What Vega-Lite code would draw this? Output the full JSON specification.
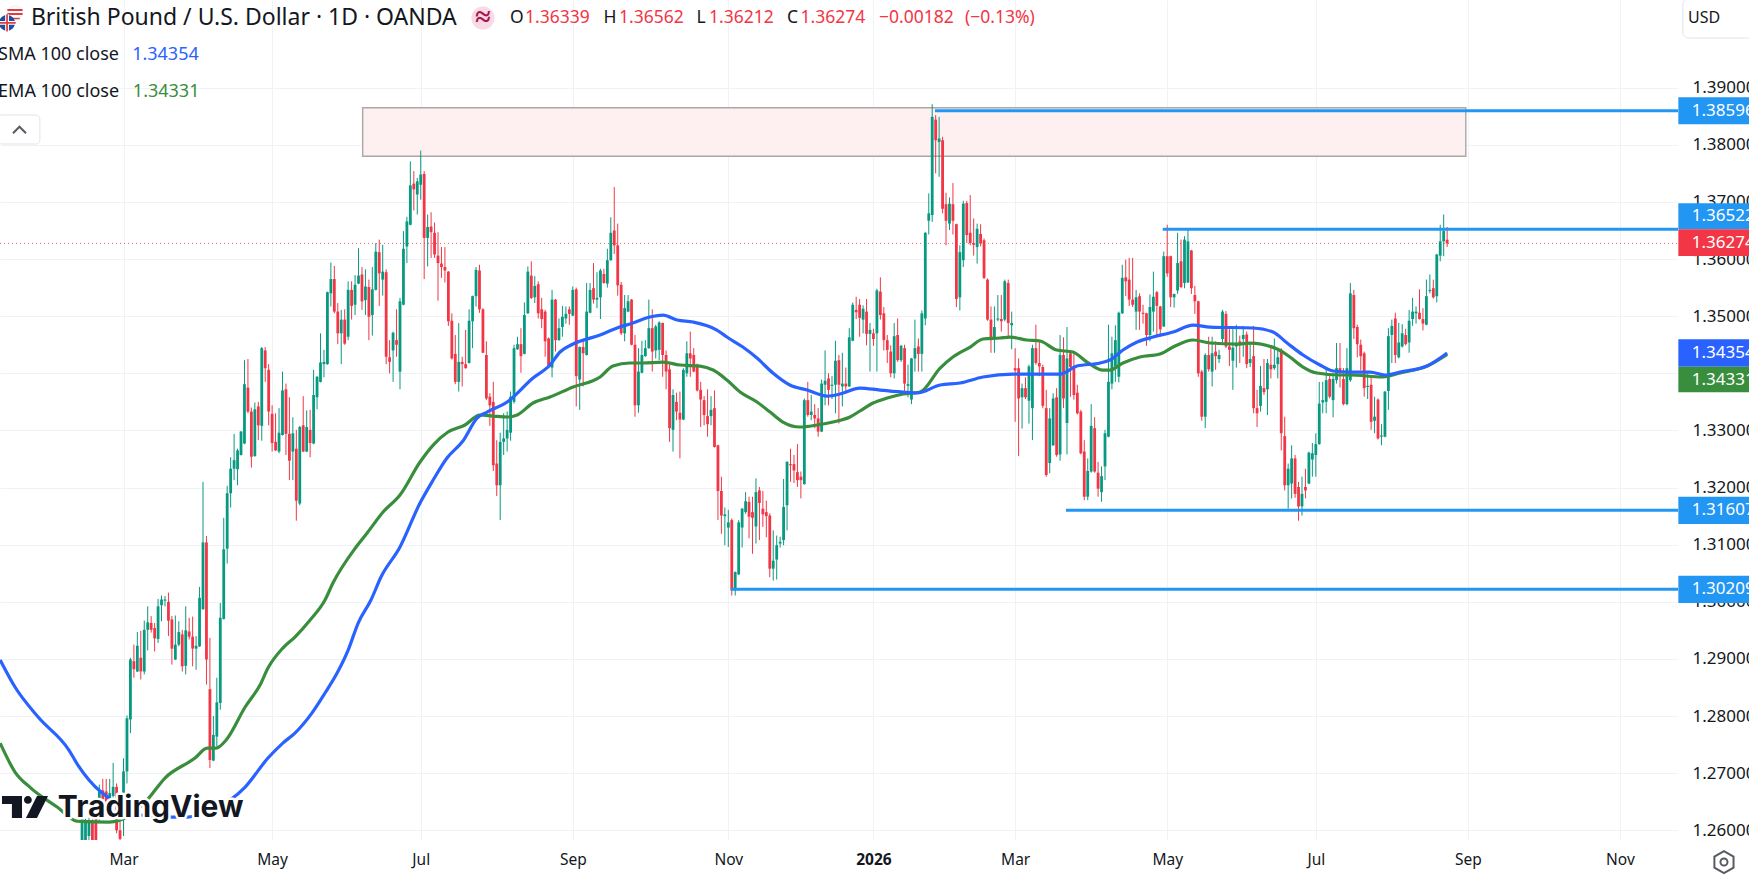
{
  "$schema": "https://vega.github.io/schema/vega-lite/v6.json",
  "description": "GBP/USD daily candles with SMA 100 and EMA 100.",
  "width": 1678,
  "height": 840,
  "padding": {"left": 0, "top": 0, "right": 71, "bottom": 39},
  "autosize": {"type": "none"},
  "background": "#ffffff",
  "config": {"view": {"stroke": null}, "text": {"font": "Noto Sans"}},
  "datasets": {
    "candles": [
      {"b":24,"o":1.2550,"h":1.2628,"l":1.2540,"c":1.2625},
      {"b":25,"o":1.2560,"h":1.2620,"l":1.2550,"c":1.2618},
      {"b":26,"o":1.2590,"h":1.2622,"l":1.2560,"c":1.2618},
      {"b":27,"o":1.2618,"h":1.2622,"l":1.2560,"c":1.2570},
      {"b":28,"o":1.2620,"h":1.2625,"l":1.2560,"c":1.2575},
      {"b":29,"o":1.2625,"h":1.2680,"l":1.2615,"c":1.2668},
      {"b":30,"o":1.2670,"h":1.2690,"l":1.2640,"c":1.2655},
      {"b":31,"o":1.2668,"h":1.2690,"l":1.2630,"c":1.2650},
      {"b":32,"o":1.2650,"h":1.2690,"l":1.2640,"c":1.2665},
      {"b":33,"o":1.2660,"h":1.2718,"l":1.2655,"c":1.2676},
      {"b":34,"o":1.2676,"h":1.2682,"l":1.2595,"c":1.2600},
      {"b":35,"o":1.2600,"h":1.2615,"l":1.2575,"c":1.2585},
      {"b":36,"o":1.2650,"h":1.2726,"l":1.2590,"c":1.2703},
      {"b":37,"o":1.2703,"h":1.2801,"l":1.2682,"c":1.2796},
      {"b":38,"o":1.2794,"h":1.2902,"l":1.2770,"c":1.2899},
      {"b":39,"o":1.2896,"h":1.2925,"l":1.2867,"c":1.2882},
      {"b":40,"o":1.2878,"h":1.2947,"l":1.2877,"c":1.2923},
      {"b":41,"o":1.2902,"h":1.2949,"l":1.2864,"c":1.2878},
      {"b":42,"o":1.2878,"h":1.2967,"l":1.2873,"c":1.2951},
      {"b":43,"o":1.2951,"h":1.2992,"l":1.2915,"c":1.2964},
      {"b":44,"o":1.2963,"h":1.2975,"l":1.2946,"c":1.2951},
      {"b":45,"o":1.2954,"h":1.2963,"l":1.2913,"c":1.2936},
      {"b":46,"o":1.2935,"h":1.3005,"l":1.2928,"c":1.2992},
      {"b":47,"o":1.2994,"h":1.3011,"l":1.2966,"c":1.3004},
      {"b":48,"o":1.3002,"h":1.3010,"l":1.2992,"c":1.3004},
      {"b":49,"o":1.3000,"h":1.3016,"l":1.2940,"c":1.2967},
      {"b":50,"o":1.2969,"h":1.2975,"l":1.2890,"c":1.2918},
      {"b":51,"o":1.2899,"h":1.2976,"l":1.2898,"c":1.2925},
      {"b":52,"o":1.2925,"h":1.2966,"l":1.2922,"c":1.2947},
      {"b":53,"o":1.2943,"h":1.2951,"l":1.2878,"c":1.2887},
      {"b":54,"o":1.2888,"h":1.2992,"l":1.2873,"c":1.2950},
      {"b":55,"o":1.2948,"h":1.2972,"l":1.2934,"c":1.2939},
      {"b":56,"o":1.2939,"h":1.2974,"l":1.2887,"c":1.2918},
      {"b":57,"o":1.2918,"h":1.2940,"l":1.2881,"c":1.2923},
      {"b":58,"o":1.2922,"h":1.3026,"l":1.2921,"c":1.3007},
      {"b":59,"o":1.2987,"h":1.3210,"l":1.2986,"c":1.3104},
      {"b":60,"o":1.3104,"h":1.3115,"l":1.2855,"c":1.2899},
      {"b":61,"o":1.2847,"h":1.2937,"l":1.2709,"c":1.2723},
      {"b":62,"o":1.2722,"h":1.2800,"l":1.2721,"c":1.2767},
      {"b":63,"o":1.2764,"h":1.2867,"l":1.2747,"c":1.2824},
      {"b":64,"o":1.2823,"h":1.2998,"l":1.2811,"c":1.2972},
      {"b":65,"o":1.2970,"h":1.3147,"l":1.2969,"c":1.3092},
      {"b":66,"o":1.3093,"h":1.3203,"l":1.3067,"c":1.3190},
      {"b":67,"o":1.3190,"h":1.3253,"l":1.3165,"c":1.3233},
      {"b":68,"o":1.3233,"h":1.3294,"l":1.3213,"c":1.3248},
      {"b":69,"o":1.3232,"h":1.3268,"l":1.3204,"c":1.3265},
      {"b":70,"o":1.3257,"h":1.3299,"l":1.3256,"c":1.3298},
      {"b":71,"o":1.3277,"h":1.3423,"l":1.3276,"c":1.3381},
      {"b":72,"o":1.3375,"h":1.3425,"l":1.3330,"c":1.3333},
      {"b":73,"o":1.3333,"h":1.3340,"l":1.3235,"c":1.3254},
      {"b":74,"o":1.3255,"h":1.3349,"l":1.3254,"c":1.3337},
      {"b":75,"o":1.3342,"h":1.3350,"l":1.3283,"c":1.3309},
      {"b":76,"o":1.3308,"h":1.3446,"l":1.3282,"c":1.3444},
      {"b":77,"o":1.3440,"h":1.3446,"l":1.3385,"c":1.3409},
      {"b":78,"o":1.3406,"h":1.3416,"l":1.3309,"c":1.3333},
      {"b":79,"o":1.3329,"h":1.3344,"l":1.3263,"c":1.3278},
      {"b":80,"o":1.3280,"h":1.3330,"l":1.3264,"c":1.3265},
      {"b":81,"o":1.3263,"h":1.3339,"l":1.3260,"c":1.3296},
      {"b":82,"o":1.3292,"h":1.3403,"l":1.3291,"c":1.3370},
      {"b":83,"o":1.3372,"h":1.3382,"l":1.3257,"c":1.3294},
      {"b":84,"o":1.3294,"h":1.3358,"l":1.3213,"c":1.3247},
      {"b":85,"o":1.3263,"h":1.3323,"l":1.3213,"c":1.3295},
      {"b":86,"o":1.3268,"h":1.3301,"l":1.3142,"c":1.3177},
      {"b":87,"o":1.3172,"h":1.3308,"l":1.3169,"c":1.3306},
      {"b":88,"o":1.3309,"h":1.3360,"l":1.3262,"c":1.3263},
      {"b":89,"o":1.3263,"h":1.3335,"l":1.3262,"c":1.3306},
      {"b":90,"o":1.3301,"h":1.3336,"l":1.3253,"c":1.3278},
      {"b":91,"o":1.3277,"h":1.3406,"l":1.3276,"c":1.3362},
      {"b":92,"o":1.3358,"h":1.3395,"l":1.3337,"c":1.3394},
      {"b":93,"o":1.3385,"h":1.3470,"l":1.3384,"c":1.3419},
      {"b":94,"o":1.3416,"h":1.3441,"l":1.3393,"c":1.3420},
      {"b":95,"o":1.3416,"h":1.3543,"l":1.3415,"c":1.3542},
      {"b":96,"o":1.3540,"h":1.3594,"l":1.3517,"c":1.3565},
      {"b":97,"o":1.3565,"h":1.3588,"l":1.3505,"c":1.3508},
      {"b":98,"o":1.3508,"h":1.3523,"l":1.3451,"c":1.3470},
      {"b":99,"o":1.3470,"h":1.3511,"l":1.3416,"c":1.3494},
      {"b":100,"o":1.3494,"h":1.3512,"l":1.3450,"c":1.3452},
      {"b":101,"o":1.3464,"h":1.3561,"l":1.3458,"c":1.3546},
      {"b":102,"o":1.3546,"h":1.3561,"l":1.3494,"c":1.3518},
      {"b":103,"o":1.3520,"h":1.3572,"l":1.3502,"c":1.3555},
      {"b":104,"o":1.3557,"h":1.3619,"l":1.3556,"c":1.3571},
      {"b":105,"o":1.3573,"h":1.3586,"l":1.3511,"c":1.3526},
      {"b":106,"o":1.3528,"h":1.3582,"l":1.3502,"c":1.3552},
      {"b":107,"o":1.3551,"h":1.3564,"l":1.3458,"c":1.3499},
      {"b":108,"o":1.3502,"h":1.3586,"l":1.3466,"c":1.3547},
      {"b":109,"o":1.3546,"h":1.3628,"l":1.3545,"c":1.3613},
      {"b":110,"o":1.3612,"h":1.3634,"l":1.3518,"c":1.3575},
      {"b":111,"o":1.3564,"h":1.3625,"l":1.3536,"c":1.3578},
      {"b":112,"o":1.3577,"h":1.3582,"l":1.3416,"c":1.3429},
      {"b":113,"o":1.3428,"h":1.3458,"l":1.3400,"c":1.3420},
      {"b":114,"o":1.3440,"h":1.3473,"l":1.3385,"c":1.3471},
      {"b":115,"o":1.3458,"h":1.3512,"l":1.3429,"c":1.3450},
      {"b":116,"o":1.3403,"h":1.3532,"l":1.3372,"c":1.3526},
      {"b":117,"o":1.3520,"h":1.3649,"l":1.3519,"c":1.3618},
      {"b":118,"o":1.3622,"h":1.3674,"l":1.3593,"c":1.3666},
      {"b":119,"o":1.3660,"h":1.3771,"l":1.3659,"c":1.3729},
      {"b":120,"o":1.3732,"h":1.3754,"l":1.3685,"c":1.3722},
      {"b":121,"o":1.3713,"h":1.3742,"l":1.3678,"c":1.3736},
      {"b":122,"o":1.3730,"h":1.3790,"l":1.3704,"c":1.3748},
      {"b":123,"o":1.3749,"h":1.3754,"l":1.3565,"c":1.3637},
      {"b":124,"o":1.3637,"h":1.3678,"l":1.3587,"c":1.3656},
      {"b":125,"o":1.3657,"h":1.3682,"l":1.3602,"c":1.3647},
      {"b":126,"o":1.3646,"h":1.3664,"l":1.3602,"c":1.3608},
      {"b":127,"o":1.3606,"h":1.3647,"l":1.3527,"c":1.3593},
      {"b":128,"o":1.3592,"h":1.3621,"l":1.3567,"c":1.3586},
      {"b":129,"o":1.3586,"h":1.3621,"l":1.3559,"c":1.3580},
      {"b":130,"o":1.3578,"h":1.3579,"l":1.3483,"c":1.3491},
      {"b":131,"o":1.3492,"h":1.3505,"l":1.3424,"c":1.3426},
      {"b":132,"o":1.3434,"h":1.3467,"l":1.3381,"c":1.3385},
      {"b":133,"o":1.3385,"h":1.3488,"l":1.3368,"c":1.3420},
      {"b":134,"o":1.3420,"h":1.3429,"l":1.3377,"c":1.3416},
      {"b":135,"o":1.3416,"h":1.3476,"l":1.3408,"c":1.3409},
      {"b":136,"o":1.3418,"h":1.3512,"l":1.3417,"c":1.3492},
      {"b":137,"o":1.3491,"h":1.3536,"l":1.3444,"c":1.3535},
      {"b":138,"o":1.3535,"h":1.3586,"l":1.3517,"c":1.3581},
      {"b":139,"o":1.3580,"h":1.3590,"l":1.3506,"c":1.3512},
      {"b":140,"o":1.3512,"h":1.3514,"l":1.3435,"c":1.3436},
      {"b":141,"o":1.3432,"h":1.3456,"l":1.3353,"c":1.3356},
      {"b":142,"o":1.3359,"h":1.3365,"l":1.3308,"c":1.3344},
      {"b":143,"o":1.3350,"h":1.3385,"l":1.3229,"c":1.3239},
      {"b":144,"o":1.3242,"h":1.3283,"l":1.3185,"c":1.3204},
      {"b":145,"o":1.3204,"h":1.3296,"l":1.3143,"c":1.3280},
      {"b":146,"o":1.3280,"h":1.3330,"l":1.3257,"c":1.3286},
      {"b":147,"o":1.3286,"h":1.3333,"l":1.3263,"c":1.3301},
      {"b":148,"o":1.3296,"h":1.3368,"l":1.3282,"c":1.3359},
      {"b":149,"o":1.3350,"h":1.3450,"l":1.3347,"c":1.3444},
      {"b":150,"o":1.3442,"h":1.3464,"l":1.3441,"c":1.3451},
      {"b":151,"o":1.3451,"h":1.3479,"l":1.3401,"c":1.3430},
      {"b":152,"o":1.3434,"h":1.3524,"l":1.3433,"c":1.3502},
      {"b":153,"o":1.3505,"h":1.3587,"l":1.3504,"c":1.3578},
      {"b":154,"o":1.3571,"h":1.3596,"l":1.3530,"c":1.3532},
      {"b":155,"o":1.3533,"h":1.3570,"l":1.3523,"c":1.3553},
      {"b":156,"o":1.3556,"h":1.3561,"l":1.3496,"c":1.3505},
      {"b":157,"o":1.3512,"h":1.3532,"l":1.3479,"c":1.3495},
      {"b":158,"o":1.3508,"h":1.3511,"l":1.3429,"c":1.3456},
      {"b":159,"o":1.3461,"h":1.3463,"l":1.3409,"c":1.3412},
      {"b":160,"o":1.3410,"h":1.3546,"l":1.3393,"c":1.3529},
      {"b":161,"o":1.3529,"h":1.3530,"l":1.3438,"c":1.3458},
      {"b":162,"o":1.3458,"h":1.3496,"l":1.3457,"c":1.3479},
      {"b":163,"o":1.3481,"h":1.3518,"l":1.3464,"c":1.3499},
      {"b":164,"o":1.3496,"h":1.3517,"l":1.3487,"c":1.3504},
      {"b":165,"o":1.3512,"h":1.3517,"l":1.3485,"c":1.3504},
      {"b":166,"o":1.3501,"h":1.3552,"l":1.3500,"c":1.3546},
      {"b":167,"o":1.3547,"h":1.3550,"l":1.3342,"c":1.3395},
      {"b":168,"o":1.3389,"h":1.3447,"l":1.3336,"c":1.3446},
      {"b":169,"o":1.3446,"h":1.3458,"l":1.3377,"c":1.3435},
      {"b":170,"o":1.3432,"h":1.3558,"l":1.3431,"c":1.3508},
      {"b":171,"o":1.3506,"h":1.3558,"l":1.3505,"c":1.3546},
      {"b":172,"o":1.3549,"h":1.3593,"l":1.3522,"c":1.3529},
      {"b":173,"o":1.3529,"h":1.3577,"l":1.3514,"c":1.3532},
      {"b":174,"o":1.3533,"h":1.3583,"l":1.3495,"c":1.3580},
      {"b":175,"o":1.3574,"h":1.3583,"l":1.3557,"c":1.3558},
      {"b":176,"o":1.3557,"h":1.3618,"l":1.3550,"c":1.3598},
      {"b":177,"o":1.3598,"h":1.3673,"l":1.3597,"c":1.3646},
      {"b":178,"o":1.3650,"h":1.3726,"l":1.3609,"c":1.3624},
      {"b":179,"o":1.3624,"h":1.3662,"l":1.3536,"c":1.3554},
      {"b":180,"o":1.3555,"h":1.3560,"l":1.3467,"c":1.3470},
      {"b":181,"o":1.3470,"h":1.3537,"l":1.3456,"c":1.3514},
      {"b":182,"o":1.3508,"h":1.3537,"l":1.3507,"c":1.3526},
      {"b":183,"o":1.3529,"h":1.3530,"l":1.3449,"c":1.3450},
      {"b":184,"o":1.3450,"h":1.3467,"l":1.3324,"c":1.3344},
      {"b":185,"o":1.3344,"h":1.3444,"l":1.3331,"c":1.3403},
      {"b":186,"o":1.3401,"h":1.3457,"l":1.3400,"c":1.3432},
      {"b":187,"o":1.3430,"h":1.3458,"l":1.3429,"c":1.3444},
      {"b":188,"o":1.3444,"h":1.3529,"l":1.3443,"c":1.3479},
      {"b":189,"o":1.3479,"h":1.3512,"l":1.3403,"c":1.3438},
      {"b":190,"o":1.3440,"h":1.3485,"l":1.3426,"c":1.3482},
      {"b":191,"o":1.3441,"h":1.3491,"l":1.3423,"c":1.3489},
      {"b":192,"o":1.3488,"h":1.3489,"l":1.3394,"c":1.3432},
      {"b":193,"o":1.3432,"h":1.3440,"l":1.3372,"c":1.3403},
      {"b":194,"o":1.3407,"h":1.3420,"l":1.3280,"c":1.3304},
      {"b":195,"o":1.3301,"h":1.3372,"l":1.3263,"c":1.3362},
      {"b":196,"o":1.3350,"h":1.3366,"l":1.3318,"c":1.3333},
      {"b":197,"o":1.3331,"h":1.3368,"l":1.3251,"c":1.3319},
      {"b":198,"o":1.3319,"h":1.3409,"l":1.3318,"c":1.3406},
      {"b":199,"o":1.3400,"h":1.3456,"l":1.3394,"c":1.3435},
      {"b":200,"o":1.3435,"h":1.3473,"l":1.3394,"c":1.3426},
      {"b":201,"o":1.3432,"h":1.3444,"l":1.3402,"c":1.3403},
      {"b":202,"o":1.3415,"h":1.3417,"l":1.3368,"c":1.3370},
      {"b":203,"o":1.3371,"h":1.3385,"l":1.3306,"c":1.3354},
      {"b":204,"o":1.3353,"h":1.3360,"l":1.3309,"c":1.3327},
      {"b":205,"o":1.3325,"h":1.3372,"l":1.3289,"c":1.3311},
      {"b":206,"o":1.3325,"h":1.3360,"l":1.3309,"c":1.3336},
      {"b":207,"o":1.3339,"h":1.3370,"l":1.3270,"c":1.3271},
      {"b":208,"o":1.3274,"h":1.3275,"l":1.3143,"c":1.3194},
      {"b":209,"o":1.3194,"h":1.3219,"l":1.3119,"c":1.3151},
      {"b":210,"o":1.3150,"h":1.3165,"l":1.3099,"c":1.3153},
      {"b":211,"o":1.3130,"h":1.3161,"l":1.3096,"c":1.3139},
      {"b":212,"o":1.3143,"h":1.3146,"l":1.3011,"c":1.3020},
      {"b":213,"o":1.3020,"h":1.3053,"l":1.3011,"c":1.3052},
      {"b":214,"o":1.3048,"h":1.3143,"l":1.3047,"c":1.3139},
      {"b":215,"o":1.3130,"h":1.3164,"l":1.3095,"c":1.3163},
      {"b":216,"o":1.3157,"h":1.3192,"l":1.3154,"c":1.3176},
      {"b":217,"o":1.3175,"h":1.3184,"l":1.3111,"c":1.3149},
      {"b":218,"o":1.3157,"h":1.3184,"l":1.3084,"c":1.3147},
      {"b":219,"o":1.3132,"h":1.3216,"l":1.3102,"c":1.3192},
      {"b":220,"o":1.3195,"h":1.3201,"l":1.3108,"c":1.3173},
      {"b":221,"o":1.3163,"h":1.3194,"l":1.3131,"c":1.3153},
      {"b":222,"o":1.3157,"h":1.3177,"l":1.3113,"c":1.3150},
      {"b":223,"o":1.3151,"h":1.3155,"l":1.3043,"c":1.3058},
      {"b":224,"o":1.3058,"h":1.3125,"l":1.3037,"c":1.3072},
      {"b":225,"o":1.3074,"h":1.3116,"l":1.3039,"c":1.3099},
      {"b":226,"o":1.3102,"h":1.3114,"l":1.3095,"c":1.3105},
      {"b":227,"o":1.3108,"h":1.3215,"l":1.3099,"c":1.3166},
      {"b":228,"o":1.3169,"h":1.3246,"l":1.3125,"c":1.3245},
      {"b":229,"o":1.3241,"h":1.3268,"l":1.3210,"c":1.3239},
      {"b":230,"o":1.3241,"h":1.3257,"l":1.3208,"c":1.3230},
      {"b":231,"o":1.3227,"h":1.3276,"l":1.3201,"c":1.3213},
      {"b":232,"o":1.3219,"h":1.3228,"l":1.3181,"c":1.3213},
      {"b":233,"o":1.3206,"h":1.3356,"l":1.3205,"c":1.3353},
      {"b":234,"o":1.3353,"h":1.3385,"l":1.3324,"c":1.3327},
      {"b":235,"o":1.3327,"h":1.3362,"l":1.3318,"c":1.3333},
      {"b":236,"o":1.3327,"h":1.3346,"l":1.3304,"c":1.3321},
      {"b":237,"o":1.3321,"h":1.3339,"l":1.3289,"c":1.3298},
      {"b":238,"o":1.3298,"h":1.3389,"l":1.3297,"c":1.3382},
      {"b":239,"o":1.3380,"h":1.3440,"l":1.3344,"c":1.3387},
      {"b":240,"o":1.3391,"h":1.3400,"l":1.3344,"c":1.3371},
      {"b":241,"o":1.3378,"h":1.3395,"l":1.3355,"c":1.3380},
      {"b":242,"o":1.3380,"h":1.3457,"l":1.3330,"c":1.3422},
      {"b":243,"o":1.3423,"h":1.3432,"l":1.3312,"c":1.3380},
      {"b":244,"o":1.3377,"h":1.3436,"l":1.3342,"c":1.3382},
      {"b":245,"o":1.3382,"h":1.3410,"l":1.3365,"c":1.3377},
      {"b":246,"o":1.3377,"h":1.3479,"l":1.3376,"c":1.3463},
      {"b":247,"o":1.3457,"h":1.3524,"l":1.3456,"c":1.3520},
      {"b":248,"o":1.3511,"h":1.3534,"l":1.3495,"c":1.3507},
      {"b":249,"o":1.3520,"h":1.3530,"l":1.3464,"c":1.3497},
      {"b":250,"o":1.3494,"h":1.3519,"l":1.3470,"c":1.3513},
      {"b":251,"o":1.3508,"h":1.3530,"l":1.3449,"c":1.3469},
      {"b":252,"o":1.3469,"h":1.3488,"l":1.3403,"c":1.3476},
      {"b":253,"o":1.3470,"h":1.3478,"l":1.3448,"c":1.3460},
      {"b":254,"o":1.3470,"h":1.3548,"l":1.3403,"c":1.3545},
      {"b":255,"o":1.3543,"h":1.3568,"l":1.3494,"c":1.3502},
      {"b":256,"o":1.3505,"h":1.3516,"l":1.3440,"c":1.3458},
      {"b":257,"o":1.3458,"h":1.3467,"l":1.3418,"c":1.3441},
      {"b":258,"o":1.3438,"h":1.3449,"l":1.3393,"c":1.3400},
      {"b":259,"o":1.3400,"h":1.3488,"l":1.3391,"c":1.3465},
      {"b":260,"o":1.3467,"h":1.3496,"l":1.3420,"c":1.3423},
      {"b":261,"o":1.3423,"h":1.3450,"l":1.3420,"c":1.3448},
      {"b":262,"o":1.3444,"h":1.3450,"l":1.3365,"c":1.3382},
      {"b":263,"o":1.3378,"h":1.3415,"l":1.3358,"c":1.3381},
      {"b":264,"o":1.3354,"h":1.3427,"l":1.3346,"c":1.3426},
      {"b":265,"o":1.3426,"h":1.3494,"l":1.3403,"c":1.3444},
      {"b":266,"o":1.3447,"h":1.3461,"l":1.3403,"c":1.3434},
      {"b":267,"o":1.3434,"h":1.3510,"l":1.3403,"c":1.3505},
      {"b":268,"o":1.3496,"h":1.3647,"l":1.3484,"c":1.3646},
      {"b":269,"o":1.3667,"h":1.3715,"l":1.3643,"c":1.3680},
      {"b":270,"o":1.3677,"h":1.3871,"l":1.3665,"c":1.3849},
      {"b":271,"o":1.3844,"h":1.3852,"l":1.3750,"c":1.3808},
      {"b":272,"o":1.3805,"h":1.3849,"l":1.3744,"c":1.3811},
      {"b":273,"o":1.3808,"h":1.3814,"l":1.3680,"c":1.3688},
      {"b":274,"o":1.3696,"h":1.3716,"l":1.3624,"c":1.3667},
      {"b":275,"o":1.3662,"h":1.3708,"l":1.3651,"c":1.3697},
      {"b":276,"o":1.3696,"h":1.3733,"l":1.3643,"c":1.3667},
      {"b":277,"o":1.3661,"h":1.3662,"l":1.3516,"c":1.3530},
      {"b":278,"o":1.3533,"h":1.3624,"l":1.3510,"c":1.3612},
      {"b":279,"o":1.3598,"h":1.3702,"l":1.3586,"c":1.3697},
      {"b":280,"o":1.3698,"h":1.3702,"l":1.3628,"c":1.3642},
      {"b":281,"o":1.3646,"h":1.3712,"l":1.3624,"c":1.3628},
      {"b":282,"o":1.3628,"h":1.3671,"l":1.3606,"c":1.3625},
      {"b":283,"o":1.3621,"h":1.3662,"l":1.3592,"c":1.3653},
      {"b":284,"o":1.3644,"h":1.3661,"l":1.3622,"c":1.3627},
      {"b":285,"o":1.3633,"h":1.3636,"l":1.3565,"c":1.3567},
      {"b":286,"o":1.3564,"h":1.3566,"l":1.3492,"c":1.3494},
      {"b":287,"o":1.3494,"h":1.3517,"l":1.3436,"c":1.3458},
      {"b":288,"o":1.3461,"h":1.3517,"l":1.3436,"c":1.3481},
      {"b":289,"o":1.3494,"h":1.3537,"l":1.3491,"c":1.3496},
      {"b":290,"o":1.3495,"h":1.3537,"l":1.3473,"c":1.3491},
      {"b":291,"o":1.3494,"h":1.3564,"l":1.3491,"c":1.3561},
      {"b":292,"o":1.3558,"h":1.3564,"l":1.3464,"c":1.3488},
      {"b":293,"o":1.3484,"h":1.3508,"l":1.3442,"c":1.3488},
      {"b":294,"o":1.3409,"h":1.3444,"l":1.3315,"c":1.3405},
      {"b":295,"o":1.3409,"h":1.3426,"l":1.3255,"c":1.3356},
      {"b":296,"o":1.3358,"h":1.3382,"l":1.3303,"c":1.3374},
      {"b":297,"o":1.3374,"h":1.3393,"l":1.3355,"c":1.3358},
      {"b":298,"o":1.3352,"h":1.3415,"l":1.3312,"c":1.3412},
      {"b":299,"o":1.3339,"h":1.3450,"l":1.3283,"c":1.3444},
      {"b":300,"o":1.3444,"h":1.3485,"l":1.3415,"c":1.3418},
      {"b":301,"o":1.3418,"h":1.3457,"l":1.3395,"c":1.3412},
      {"b":302,"o":1.3411,"h":1.3415,"l":1.3339,"c":1.3343},
      {"b":303,"o":1.3339,"h":1.3371,"l":1.3219,"c":1.3222},
      {"b":304,"o":1.3243,"h":1.3339,"l":1.3225,"c":1.3321},
      {"b":305,"o":1.3274,"h":1.3365,"l":1.3273,"c":1.3356},
      {"b":306,"o":1.3358,"h":1.3374,"l":1.3254,"c":1.3257},
      {"b":307,"o":1.3258,"h":1.3467,"l":1.3247,"c":1.3432},
      {"b":308,"o":1.3432,"h":1.3463,"l":1.3339,"c":1.3356},
      {"b":309,"o":1.3313,"h":1.3481,"l":1.3258,"c":1.3426},
      {"b":310,"o":1.3435,"h":1.3441,"l":1.3359,"c":1.3411},
      {"b":311,"o":1.3409,"h":1.3438,"l":1.3354,"c":1.3362},
      {"b":312,"o":1.3366,"h":1.3380,"l":1.3328,"c":1.3330},
      {"b":313,"o":1.3333,"h":1.3336,"l":1.3258,"c":1.3260},
      {"b":314,"o":1.3263,"h":1.3283,"l":1.3178,"c":1.3184},
      {"b":315,"o":1.3184,"h":1.3251,"l":1.3178,"c":1.3229},
      {"b":316,"o":1.3228,"h":1.3346,"l":1.3226,"c":1.3308},
      {"b":317,"o":1.3304,"h":1.3323,"l":1.3226,"c":1.3228},
      {"b":318,"o":1.3226,"h":1.3245,"l":1.3184,"c":1.3198},
      {"b":319,"o":1.3192,"h":1.3237,"l":1.3175,"c":1.3220},
      {"b":320,"o":1.3237,"h":1.3301,"l":1.3213,"c":1.3295},
      {"b":321,"o":1.3289,"h":1.3485,"l":1.3288,"c":1.3385},
      {"b":322,"o":1.3382,"h":1.3464,"l":1.3372,"c":1.3435},
      {"b":323,"o":1.3412,"h":1.3484,"l":1.3385,"c":1.3458},
      {"b":324,"o":1.3394,"h":1.3508,"l":1.3384,"c":1.3506},
      {"b":325,"o":1.3505,"h":1.3590,"l":1.3504,"c":1.3567},
      {"b":326,"o":1.3568,"h":1.3599,"l":1.3535,"c":1.3561},
      {"b":327,"o":1.3564,"h":1.3602,"l":1.3518,"c":1.3529},
      {"b":328,"o":1.3529,"h":1.3602,"l":1.3516,"c":1.3520},
      {"b":329,"o":1.3508,"h":1.3546,"l":1.3476,"c":1.3533},
      {"b":330,"o":1.3535,"h":1.3540,"l":1.3476,"c":1.3508},
      {"b":331,"o":1.3506,"h":1.3520,"l":1.3487,"c":1.3504},
      {"b":332,"o":1.3505,"h":1.3506,"l":1.3448,"c":1.3467},
      {"b":333,"o":1.3467,"h":1.3538,"l":1.3456,"c":1.3516},
      {"b":334,"o":1.3508,"h":1.3578,"l":1.3473,"c":1.3534},
      {"b":335,"o":1.3542,"h":1.3544,"l":1.3464,"c":1.3518},
      {"b":336,"o":1.3517,"h":1.3518,"l":1.3464,"c":1.3477},
      {"b":337,"o":1.3482,"h":1.3613,"l":1.3481,"c":1.3605},
      {"b":338,"o":1.3605,"h":1.3660,"l":1.3569,"c":1.3575},
      {"b":339,"o":1.3605,"h":1.3606,"l":1.3516,"c":1.3533},
      {"b":340,"o":1.3533,"h":1.3539,"l":1.3515,"c":1.3539},
      {"b":341,"o":1.3545,"h":1.3646,"l":1.3539,"c":1.3593},
      {"b":342,"o":1.3596,"h":1.3634,"l":1.3549,"c":1.3551},
      {"b":343,"o":1.3558,"h":1.3640,"l":1.3549,"c":1.3634},
      {"b":344,"o":1.3559,"h":1.3654,"l":1.3558,"c":1.3631},
      {"b":345,"o":1.3615,"h":1.3616,"l":1.3539,"c":1.3549},
      {"b":346,"o":1.3537,"h":1.3553,"l":1.3504,"c":1.3526},
      {"b":347,"o":1.3526,"h":1.3527,"l":1.3394,"c":1.3400},
      {"b":348,"o":1.3403,"h":1.3406,"l":1.3317,"c":1.3324},
      {"b":349,"o":1.3324,"h":1.3435,"l":1.3304,"c":1.3432},
      {"b":350,"o":1.3432,"h":1.3464,"l":1.3403,"c":1.3407},
      {"b":351,"o":1.3403,"h":1.3464,"l":1.3377,"c":1.3435},
      {"b":352,"o":1.3438,"h":1.3456,"l":1.3406,"c":1.3430},
      {"b":353,"o":1.3425,"h":1.3441,"l":1.3418,"c":1.3432},
      {"b":354,"o":1.3460,"h":1.3511,"l":1.3455,"c":1.3508},
      {"b":355,"o":1.3504,"h":1.3509,"l":1.3444,"c":1.3447},
      {"b":356,"o":1.3447,"h":1.3483,"l":1.3413,"c":1.3441},
      {"b":357,"o":1.3422,"h":1.3479,"l":1.3371,"c":1.3445},
      {"b":358,"o":1.3447,"h":1.3485,"l":1.3410,"c":1.3453},
      {"b":359,"o":1.3456,"h":1.3466,"l":1.3418,"c":1.3453},
      {"b":360,"o":1.3460,"h":1.3483,"l":1.3429,"c":1.3467},
      {"b":361,"o":1.3468,"h":1.3473,"l":1.3409,"c":1.3416},
      {"b":362,"o":1.3418,"h":1.3452,"l":1.3411,"c":1.3425},
      {"b":363,"o":1.3430,"h":1.3483,"l":1.3330,"c":1.3339},
      {"b":364,"o":1.3339,"h":1.3371,"l":1.3306,"c":1.3330},
      {"b":365,"o":1.3343,"h":1.3413,"l":1.3333,"c":1.3378},
      {"b":366,"o":1.3374,"h":1.3425,"l":1.3362,"c":1.3367},
      {"b":367,"o":1.3372,"h":1.3425,"l":1.3327,"c":1.3418},
      {"b":368,"o":1.3415,"h":1.3446,"l":1.3391,"c":1.3407},
      {"b":369,"o":1.3409,"h":1.3461,"l":1.3406,"c":1.3415},
      {"b":370,"o":1.3416,"h":1.3441,"l":1.3391,"c":1.3428},
      {"b":371,"o":1.3441,"h":1.3444,"l":1.3265,"c":1.3295},
      {"b":372,"o":1.3290,"h":1.3324,"l":1.3195,"c":1.3204},
      {"b":373,"o":1.3204,"h":1.3242,"l":1.3163,"c":1.3233},
      {"b":374,"o":1.3207,"h":1.3274,"l":1.3181,"c":1.3251},
      {"b":375,"o":1.3251,"h":1.3257,"l":1.3182,"c":1.3189},
      {"b":376,"o":1.3201,"h":1.3210,"l":1.3142,"c":1.3167},
      {"b":377,"o":1.3167,"h":1.3219,"l":1.3151,"c":1.3189},
      {"b":378,"o":1.3201,"h":1.3233,"l":1.3181,"c":1.3195},
      {"b":379,"o":1.3207,"h":1.3263,"l":1.3206,"c":1.3261},
      {"b":380,"o":1.3249,"h":1.3278,"l":1.3219,"c":1.3260},
      {"b":381,"o":1.3257,"h":1.3295,"l":1.3219,"c":1.3276},
      {"b":382,"o":1.3276,"h":1.3385,"l":1.3275,"c":1.3347},
      {"b":383,"o":1.3349,"h":1.3385,"l":1.3330,"c":1.3353},
      {"b":384,"o":1.3350,"h":1.3408,"l":1.3330,"c":1.3388},
      {"b":385,"o":1.3390,"h":1.3398,"l":1.3356,"c":1.3359},
      {"b":386,"o":1.3353,"h":1.3398,"l":1.3323,"c":1.3390},
      {"b":387,"o":1.3388,"h":1.3453,"l":1.3382,"c":1.3409},
      {"b":388,"o":1.3409,"h":1.3453,"l":1.3375,"c":1.3400},
      {"b":389,"o":1.3390,"h":1.3409,"l":1.3344,"c":1.3346},
      {"b":390,"o":1.3346,"h":1.3444,"l":1.3344,"c":1.3409},
      {"b":391,"o":1.3388,"h":1.3558,"l":1.3385,"c":1.3540},
      {"b":392,"o":1.3537,"h":1.3546,"l":1.3460,"c":1.3479},
      {"b":393,"o":1.3481,"h":1.3485,"l":1.3428,"c":1.3451},
      {"b":394,"o":1.3450,"h":1.3459,"l":1.3405,"c":1.3430},
      {"b":395,"o":1.3435,"h":1.3438,"l":1.3359,"c":1.3374},
      {"b":396,"o":1.3376,"h":1.3400,"l":1.3355,"c":1.3378},
      {"b":397,"o":1.3380,"h":1.3394,"l":1.3301,"c":1.3315},
      {"b":398,"o":1.3317,"h":1.3359,"l":1.3295,"c":1.3324},
      {"b":399,"o":1.3354,"h":1.3356,"l":1.3284,"c":1.3286},
      {"b":400,"o":1.3289,"h":1.3311,"l":1.3274,"c":1.3291},
      {"b":401,"o":1.3289,"h":1.3369,"l":1.3288,"c":1.3368},
      {"b":402,"o":1.3369,"h":1.3479,"l":1.3336,"c":1.3465},
      {"b":403,"o":1.3467,"h":1.3494,"l":1.3418,"c":1.3483},
      {"b":404,"o":1.3496,"h":1.3506,"l":1.3418,"c":1.3432},
      {"b":405,"o":1.3428,"h":1.3488,"l":1.3426,"c":1.3454},
      {"b":406,"o":1.3447,"h":1.3486,"l":1.3445,"c":1.3470},
      {"b":407,"o":1.3467,"h":1.3478,"l":1.3449,"c":1.3451},
      {"b":408,"o":1.3454,"h":1.3511,"l":1.3436,"c":1.3492},
      {"b":409,"o":1.3495,"h":1.3532,"l":1.3483,"c":1.3508},
      {"b":410,"o":1.3505,"h":1.3517,"l":1.3487,"c":1.3508},
      {"b":411,"o":1.3506,"h":1.3547,"l":1.3494,"c":1.3495},
      {"b":412,"o":1.3495,"h":1.3514,"l":1.3475,"c":1.3487},
      {"b":413,"o":1.3485,"h":1.3564,"l":1.3484,"c":1.3535},
      {"b":414,"o":1.3544,"h":1.3573,"l":1.3540,"c":1.3546},
      {"b":415,"o":1.3549,"h":1.3564,"l":1.3531,"c":1.3533},
      {"b":416,"o":1.3535,"h":1.3609,"l":1.3524,"c":1.3608},
      {"b":417,"o":1.3606,"h":1.3660,"l":1.3596,"c":1.3631},
      {"b":418,"o":1.3631,"h":1.3678,"l":1.3605,"c":1.3649},
      {"b":419,"o":1.36339,"h":1.36562,"l":1.36212,"c":1.36274}
    ],
    "sma": [
      {"b":0.3,"v":1.28981},{"b":4.6,"v":1.28508},{"b":11.3,"v":1.27982},{"b":20.2,"v":1.27405},{"b":22.8,"v":1.27142},{"b":29.5,"v":1.26669},{"b":31.8,"v":1.26565},{"b":40.8,"v":1.26267},{"b":50,"v":1.26232},{"b":54.4,"v":1.26232},{"b":61,"v":1.26354},{"b":66.8,"v":1.26529},{"b":71.2,"v":1.26757},{"b":77.8,"v":1.27265},{"b":82.1,"v":1.27527},{"b":85.6,"v":1.27702},{"b":90.5,"v":1.28052},{"b":94.3,"v":1.28403},{"b":97.8,"v":1.28753},{"b":101,"v":1.29155},{"b":103.9,"v":1.29628},{"b":107.6,"v":1.30031},{"b":110.5,"v":1.30433},{"b":116,"v":1.30959},{"b":121.8,"v":1.31729},{"b":125.6,"v":1.32132},{"b":129.6,"v":1.32517},{"b":134.2,"v":1.32814},{"b":138.3,"v":1.33217},{"b":141.2,"v":1.33322},{"b":147,"v":1.33497},{"b":154.5,"v":1.33917},{"b":159.4,"v":1.34145},{"b":162.3,"v":1.34373},{"b":166.1,"v":1.34513},{"b":173.9,"v":1.3467},{"b":178.8,"v":1.34793},{"b":183.4,"v":1.3488},{"b":188.3,"v":1.34985},{"b":192.1,"v":1.3502},{"b":196.2,"v":1.34933},{"b":200.8,"v":1.34898},{"b":207.7,"v":1.34758},{"b":210.6,"v":1.34635},{"b":215.2,"v":1.3446},{"b":219.3,"v":1.34267},{"b":223.9,"v":1.34005},{"b":228.8,"v":1.33795},{"b":233.8,"v":1.33707},{"b":239.6,"v":1.33602},{"b":243.3,"v":1.33637},{"b":249.1,"v":1.33742},{"b":254.9,"v":1.33707},{"b":261.6,"v":1.33672},{"b":265.6,"v":1.33655},{"b":272.3,"v":1.33795},{"b":278,"v":1.3383},{"b":284.7,"v":1.33935},{"b":293.4,"v":1.33987},{"b":307,"v":1.33987},{"b":311.9,"v":1.34127},{"b":318.6,"v":1.3418},{"b":321.4,"v":1.34232},{"b":325.2,"v":1.34408},{"b":329.3,"v":1.34548},{"b":333.9,"v":1.34635},{"b":339.7,"v":1.34723},{"b":345.5,"v":1.34845},{"b":350.4,"v":1.3481},{"b":362.8,"v":1.34793},{"b":368.6,"v":1.34723},{"b":372.7,"v":1.3453},{"b":377.3,"v":1.3432},{"b":382.2,"v":1.34145},{"b":386,"v":1.3404},{"b":390.9,"v":1.34022},{"b":396.7,"v":1.34022},{"b":401,"v":1.3397},{"b":405.4,"v":1.34022},{"b":413.2,"v":1.34127},{"b":419,"v":1.34354}
    ],
    "ema": [
      {"b":0.3,"v":1.27527},{"b":4.6,"v":1.2702},{"b":9.2,"v":1.26739},{"b":16.8,"v":1.26407},{"b":22.5,"v":1.26162},{"b":31.8,"v":1.26144},{"b":37.9,"v":1.26267},{"b":42.8,"v":1.26529},{"b":48,"v":1.26915},{"b":56.7,"v":1.27265},{"b":60.2,"v":1.2744},{"b":62.8,"v":1.2744},{"b":65.7,"v":1.2758},{"b":71.2,"v":1.28158},{"b":75.5,"v":1.28543},{"b":77.8,"v":1.2884},{"b":82.1,"v":1.2919},{"b":85.6,"v":1.29383},{"b":90,"v":1.29681},{"b":94.3,"v":1.30031},{"b":96.6,"v":1.30328},{"b":103.3,"v":1.30959},{"b":106.5,"v":1.31204},{"b":111.1,"v":1.31571},{"b":116,"v":1.31869},{"b":121.8,"v":1.32447},{"b":125.6,"v":1.32744},{"b":129.9,"v":1.32972},{"b":134.8,"v":1.33095},{"b":139.1,"v":1.3327},{"b":142.9,"v":1.33252},{"b":147.3,"v":1.33235},{"b":149.9,"v":1.3327},{"b":154.5,"v":1.3348},{"b":159.4,"v":1.33585},{"b":166.1,"v":1.3376},{"b":173.9,"v":1.33935},{"b":177.6,"v":1.34127},{"b":182.5,"v":1.3418},{"b":186.3,"v":1.3418},{"b":192.1,"v":1.34197},{"b":197,"v":1.34145},{"b":202.8,"v":1.34127},{"b":206.6,"v":1.34057},{"b":210.6,"v":1.33882},{"b":214.4,"v":1.33672},{"b":219.3,"v":1.33497},{"b":223.1,"v":1.33322},{"b":226.8,"v":1.33147},{"b":231.7,"v":1.3306},{"b":236.7,"v":1.33095},{"b":241.3,"v":1.33147},{"b":246.2,"v":1.33235},{"b":249.1,"v":1.3334},{"b":252.9,"v":1.3348},{"b":257,"v":1.33567},{"b":261.6,"v":1.33637},{"b":266.5,"v":1.33672},{"b":272.3,"v":1.34092},{"b":276,"v":1.34285},{"b":281,"v":1.3446},{"b":284.7,"v":1.346},{"b":289.6,"v":1.34618},{"b":292.5,"v":1.34635},{"b":297.4,"v":1.34583},{"b":301.2,"v":1.34565},{"b":306,"v":1.34408},{"b":310.7,"v":1.34373},{"b":314.8,"v":1.34197},{"b":319.4,"v":1.34057},{"b":321.4,"v":1.34057},{"b":325.2,"v":1.3418},{"b":330.1,"v":1.34285},{"b":335.9,"v":1.34338},{"b":339.7,"v":1.3446},{"b":345.5,"v":1.34583},{"b":350.4,"v":1.3453},{"b":358.2,"v":1.34512},{"b":362,"v":1.3453},{"b":369.8,"v":1.34425},{"b":373.5,"v":1.34285},{"b":377.3,"v":1.3411},{"b":381.3,"v":1.34005},{"b":388,"v":1.3397},{"b":390.9,"v":1.3397},{"b":400.4,"v":1.33935},{"b":405.4,"v":1.34005},{"b":413.2,"v":1.34127},{"b":419,"v":1.34331}
    ],
    "levels": [
      {"from":270.8,"to":485.8,"p":1.38597},
      {"from":336.7,"to":485.8,"p":1.36521},
      {"from":308.7,"to":485.8,"p":1.31602},
      {"from":211.7,"to":485.8,"p":1.30218}
    ],
    "tags": [
      {"label":"1.38596","kind":"level","top":1.38832,"bot":1.38360,"mid":1.38597},
      {"label":"1.36522","kind":"level","top":1.36976,"bot":1.36521,"mid":1.36749},
      {"label":"1.36274","kind":"last","top":1.36521,"bot":1.36054,"mid":1.36274},
      {"label":"1.34354","kind":"sma","top":1.34595,"bot":1.34115,"mid":1.34354},
      {"label":"1.34331","kind":"ema","top":1.34115,"bot":1.33667,"mid":1.33891},
      {"label":"1.31607","kind":"level","top":1.31840,"bot":1.31362,"mid":1.31602},
      {"label":"1.30209","kind":"level","top":1.30457,"bot":1.29979,"mid":1.30218}
    ]
  },
  "layer": [
    {
      "data": {"values": [{"from": 105.2, "to": 424.4, "top": 1.3865, "bot": 1.378}]},
      "mark": {"type": "rect", "fill": "#FEF0F1", "stroke": "#A8A8A8", "strokeWidth": 1.4},
      "encoding": {
        "x": {
          "field": "from",
          "type": "quantitative",
          "scale": {"domain": [0.26, 485.8], "nice": false, "zero": false},
          "axis": {
            "title": null,
            "orient": "bottom",
            "values": [36, 79, 122, 166, 211, 253, 294, 338, 381, 425, 469],
            "labelExpr": "{'36':'Mar','79':'May','122':'Jul','166':'Sep','211':'Nov','253':'2026','294':'Mar','338':'May','381':'Jul','425':'Sep','469':'Nov'}[datum.value]",
            "labelFontWeight": {"condition": {"test": "datum.value == 253", "value": "bold"}, "value": "normal"},
            "labelFont": "Noto Sans",
            "labelFontSize": 15.5,
            "labelColor": "#131722",
            "labelPadding": 12,
            "labelOverlap": false,
            "labelBound": false,
            "labelFlush": false,
            "domain": false,
            "ticks": false,
            "grid": true,
            "gridColor": "#F1F2F5",
            "gridWidth": 1
          }
        },
        "x2": {"field": "to"},
        "y": {
          "field": "top",
          "type": "quantitative",
          "scale": {"domain": [1.2583, 1.40535], "nice": false, "zero": false},
          "axis": {
            "title": null,
            "orient": "right",
            "values": [1.26, 1.27, 1.28, 1.29, 1.30, 1.31, 1.32, 1.33, 1.34, 1.35, 1.36, 1.37, 1.38, 1.39],
            "format": ".5f",
            "labelFont": "Noto Sans",
            "labelFontSize": 17,
            "labelColor": "#131722",
            "labelPadding": 14,
            "labelOverlap": false,
            "labelBound": false,
            "labelFlush": false,
            "domain": false,
            "ticks": false,
            "grid": true,
            "gridColor": "#F1F2F5",
            "gridWidth": 1
          }
        },
        "y2": {"field": "bot"}
      }
    },
    {
      "data": {"values": [{"from": 0.26, "to": 485.8, "p": 1.36274}]},
      "mark": {"type": "rule", "color": "#F23645", "strokeWidth": 1, "strokeDash": [1, 3], "opacity": 0.8},
      "encoding": {
        "x": {"field": "from", "type": "quantitative"},
        "x2": {"field": "to"},
        "y": {"field": "p", "type": "quantitative"}
      }
    },
    {
      "data": {"name": "candles"},
      "mark": {"type": "rule", "strokeWidth": 1, "clip": true},
      "encoding": {
        "x": {"field": "b", "type": "quantitative"},
        "y": {"field": "l", "type": "quantitative"},
        "y2": {"field": "h"},
        "color": {"condition": {"test": "datum.c >= datum.o", "value": "#089981"}, "value": "#F23645"}
      }
    },
    {
      "data": {"name": "candles"},
      "mark": {"type": "rule", "strokeWidth": 2.8, "clip": true},
      "encoding": {
        "x": {"field": "b", "type": "quantitative"},
        "y": {"field": "o", "type": "quantitative"},
        "y2": {"field": "c"},
        "color": {"condition": {"test": "datum.c >= datum.o", "value": "#089981"}, "value": "#F23645"}
      }
    },
    {
      "data": {"name": "ema"},
      "mark": {"type": "line", "color": "#388E3C", "strokeWidth": 3.2, "interpolate": "monotone", "clip": true},
      "encoding": {
        "x": {"field": "b", "type": "quantitative"},
        "y": {"field": "v", "type": "quantitative"}
      }
    },
    {
      "data": {"name": "sma"},
      "mark": {"type": "line", "color": "#2962FF", "strokeWidth": 3.2, "interpolate": "monotone", "clip": true},
      "encoding": {
        "x": {"field": "b", "type": "quantitative"},
        "y": {"field": "v", "type": "quantitative"}
      }
    },
    {
      "data": {"name": "levels"},
      "mark": {"type": "rule", "color": "#2196F3", "strokeWidth": 3},
      "encoding": {
        "x": {"field": "from", "type": "quantitative"},
        "x2": {"field": "to"},
        "y": {"field": "p", "type": "quantitative"}
      }
    },
    {
      "data": {"name": "tags"},
      "mark": {"type": "rect"},
      "encoding": {
        "x": {"datum": 485.9},
        "x2": {"datum": 507},
        "y": {"field": "top", "type": "quantitative"},
        "y2": {"field": "bot"},
        "color": {
          "field": "kind",
          "type": "nominal",
          "legend": null,
          "scale": {"domain": ["level", "last", "sma", "ema"], "range": ["#2196F3", "#F23645", "#2962FF", "#388E3C"]}
        }
      }
    },
    {
      "data": {"name": "tags"},
      "mark": {"type": "text", "align": "left", "baseline": "middle", "color": "#ffffff", "fontSize": 17, "font": "Noto Sans"},
      "encoding": {
        "x": {"datum": 489.8},
        "y": {"field": "mid", "type": "quantitative"},
        "text": {"field": "label"}
      }
    },
    {
      "data": {"values": [{"t": "USD"}]},
      "mark": {"type": "rect", "fill": "#ffffff", "stroke": "#E0E3EB", "cornerRadius": 6},
      "encoding": {"x": {"datum": 487.2}, "x2": {"datum": 510}, "y": {"datum": 1.4056}, "y2": {"datum": 1.3987}}
    },
    {
      "data": {"values": [{"t": "USD"}]},
      "mark": {"type": "text", "align": "left", "baseline": "middle", "color": "#131722", "fontSize": 16, "font": "Noto Sans"},
      "encoding": {"x": {"datum": 488.7}, "y": {"datum": 1.4022}, "text": {"field": "t"}}
    },
    {
      "data": {"values": [{"t": "x"}]},
      "mark": {"type": "point", "filled": false, "stroke": "#131722", "strokeWidth": 2, "size": 484, "shape": "M-.87 -.5L0 -1L.87 -.5V.5L0 1L-.87 .5Z"},
      "encoding": {"x": {"datum": 499.1}, "y": {"datum": 1.25444}}
    },
    {
      "data": {"values": [{"t": "x"}]},
      "mark": {"type": "point", "filled": false, "stroke": "#131722", "strokeWidth": 2, "size": 50, "shape": "circle"},
      "encoding": {"x": {"datum": 499.1}, "y": {"datum": 1.25444}}
    },
    {
      "data": {"values": [{"t": "x"}]},
      "mark": {"type": "rect", "fill": "#ffffff", "stroke": "#E0E3EB", "cornerRadius": 4},
      "encoding": {"x": {"datum": -0.3}, "x2": {"datum": 11.8}, "y": {"datum": 1.38522}, "y2": {"datum": 1.38014}}
    },
    {
      "data": {"values": [{"t": "x"}]},
      "mark": {"type": "point", "filled": false, "stroke": "#131722", "strokeWidth": 2, "size": 169, "shape": "M-1 .5L0 -.5L1 .5"},
      "encoding": {"x": {"datum": 5.9}, "y": {"datum": 1.3826}}
    },
    {
      "data": {"values": [{"t": "TradingView"}]},
      "mark": {"type": "text", "align": "left", "baseline": "middle", "font": "Inter", "fontWeight": 700, "fontSize": 30, "fill": "#ffffff", "stroke": "#ffffff", "strokeWidth": 5, "strokeJoin": "round"},
      "encoding": {"x": {"datum": 17.0}, "y": {"datum": 1.2639}, "text": {"field": "t"}}
    },
    {
      "data": {"values": [{"t": "TradingView"}]},
      "mark": {"type": "text", "align": "left", "baseline": "middle", "font": "Inter", "fontWeight": 700, "fontSize": 30, "color": "#131722"},
      "encoding": {"x": {"datum": 17.0}, "y": {"datum": 1.2639}, "text": {"field": "t"}}
    },
    {
      "data": {"values": [{"t": "logo"}]},
      "mark": {"type": "point", "filled": true, "color": "#131722", "opacity": 1, "size": 2116, "shape": "M-1 -.48H-.13V.48H-.57V-.13H-1Z M.13 -.48A.17 .17 0 1 1 .12 -.48Z M1 -.48L.52 .48H.04L.52 -.48Z"},
      "encoding": {"x": {"datum": 7.5}, "y": {"datum": 1.26407}}
    },
    {
      "data": {"values": [{"t": "British Pound / U.S. Dollar · 1D · OANDA"}]},
      "mark": {"type": "text", "align": "left", "baseline": "middle", "color": "#131722", "fontSize": 23},
      "encoding": {"x": {"datum": 9.2}, "y": {"datum": 1.4022}, "text": {"field": "t"}}
    },
    {
      "data": {"values": [{"t": "x"}]},
      "mark": {"type": "point", "filled": true, "color": "#ffffff", "stroke": "#D8DCE6", "strokeWidth": 0.5, "opacity": 1, "size": 200, "shape": "circle"},
      "encoding": {"x": {"datum": 4.6}, "y": {"datum": 1.40308}}
    },
    {
      "data": {"values": [{"t": "x"}]},
      "mark": {"type": "point", "filled": true, "color": "#E23D3D", "opacity": 1, "size": 256, "shape": "M-.95 -.5H.95V-.25H-.95Z M-.95 0H.95V.25H-.95Z M-.6 .6H.6V.8H-.6Z"},
      "encoding": {"x": {"datum": 4.6}, "y": {"datum": 1.40308}}
    },
    {
      "data": {"values": [{"t": "x"}]},
      "mark": {"type": "point", "filled": true, "color": "#1F4E9E", "opacity": 1, "size": 254, "shape": "circle"},
      "encoding": {"x": {"datum": 2.3}, "y": {"datum": 1.40133}}
    },
    {
      "data": {"values": [{"t": "x"}]},
      "mark": {"type": "point", "filled": true, "color": "#ffffff", "opacity": 1, "size": 300, "shape": "M-1 -.22H1V.22H-1Z M-.22 -1H.22V1H-.22Z"},
      "encoding": {"x": {"datum": 2.3}, "y": {"datum": 1.40133}}
    },
    {
      "data": {"values": [{"t": "x"}]},
      "mark": {"type": "point", "filled": true, "color": "#E23D3D", "opacity": 1, "size": 300, "shape": "M-1 -.1H1V.1H-1Z M-.1 -1H.1V1H-.1Z"},
      "encoding": {"x": {"datum": 2.3}, "y": {"datum": 1.40133}}
    },
    {
      "data": {"values": [{"t": "x"}]},
      "mark": {"type": "point", "filled": true, "color": "#F8D9E4", "opacity": 1, "size": 531, "shape": "circle"},
      "encoding": {"x": {"datum": 140}, "y": {"datum": 1.4022}}
    },
    {
      "data": {"values": [{"t": "≈"}]},
      "mark": {"type": "text", "align": "center", "baseline": "middle", "color": "#A8134F", "fontSize": 28, "fontWeight": "bold"},
      "encoding": {"x": {"datum": 140}, "y": {"datum": 1.4022}, "text": {"field": "t"}}
    },
    {
      "data": {"values": [{"t": "O", "b": 147.8}, {"t": "H", "b": 174.9}, {"t": "L", "b": 201.8}, {"t": "C", "b": 228}]},
      "mark": {"type": "text", "align": "left", "baseline": "middle", "color": "#131722", "fontSize": 17.5},
      "encoding": {"x": {"field": "b", "type": "quantitative"}, "y": {"datum": 1.4022}, "text": {"field": "t"}}
    },
    {
      "data": {"values": [{"t": "1.36339", "b": 152.2}, {"t": "1.36562", "b": 179.4}, {"t": "1.36212", "b": 205.4}, {"t": "1.36274", "b": 231.9}, {"t": "−0.00182", "b": 254.6}, {"t": "(−0.13%)", "b": 279.5}]},
      "mark": {"type": "text", "align": "left", "baseline": "middle", "color": "#F23645", "fontSize": 17.5},
      "encoding": {"x": {"field": "b", "type": "quantitative"}, "y": {"datum": 1.4022}, "text": {"field": "t"}}
    },
    {
      "data": {"values": [{"t": "SMA 100 close", "p": 1.39573}, {"t": "EMA 100 close", "p": 1.3893}]},
      "mark": {"type": "text", "align": "left", "baseline": "middle", "color": "#131722", "fontSize": 18},
      "encoding": {"x": {"datum": -0.3}, "y": {"field": "p", "type": "quantitative"}, "text": {"field": "t"}}
    },
    {
      "data": {"values": [{"t": "1.34354"}]},
      "mark": {"type": "text", "align": "left", "baseline": "middle", "color": "#2962FF", "fontSize": 18},
      "encoding": {"x": {"datum": 38.5}, "y": {"datum": 1.39573}, "text": {"field": "t"}}
    },
    {
      "data": {"values": [{"t": "1.34331"}]},
      "mark": {"type": "text", "align": "left", "baseline": "middle", "color": "#388E3C", "fontSize": 18},
      "encoding": {"x": {"datum": 38.7}, "y": {"datum": 1.3893}, "text": {"field": "t"}}
    }
  ]
}
